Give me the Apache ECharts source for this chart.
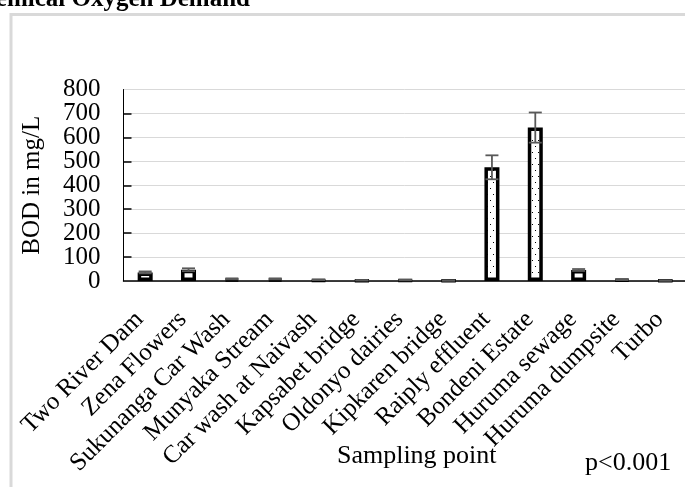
<!DOCTYPE html>
<html>
<head>
<meta charset="utf-8">
<script src="https://cdn.jsdelivr.net/npm/echarts@6/dist/echarts.min.js"></script>
<style>
html,body{margin:0;padding:0;background:#fff;}
#chart{width:685px;height:487px;}
</style>
</head>
<body>
<div id="chart"></div>
<script>
const categories = ['Two River Dam','Zena Flowers','Sukunanga Car Wash','Munyaka Stream','Car wash at Naivash','Kapsabet bridge','Oldonyo dairies','Kipkaren bridge','Raiply effluent','Bondeni Estate','Huruma sewage','Huruma dumpsite','Turbo'];
const bodMeans = [36, 47, 9, 9, 5, 3, 4, 2, 475, 641, 46, 6, 2];
const bodErrors = [4, 6, 2, 2, 1, 1, 1, 1, 50, 63, 4, 2, 1];
const yTicks = [0, 100, 200, 300, 400, 500, 600, 700, 800];
const titleText = 'Biochemical Oxygen Demand';
const yAxisTitle = 'BOD in mg/L';
const xAxisTitle = 'Sampling point';
const noteText = 'p<0.001';

const FONT = '"Liberation Serif", "Times New Roman", serif';
const yMin = yTicks[0], yMax = yTicks[yTicks.length - 1];

// dotted fill pattern
const pat = document.createElement('canvas');
pat.width = 6; pat.height = 12;
const pc = pat.getContext('2d');
pc.fillStyle = '#fff'; pc.fillRect(0, 0, 6, 12);
pc.fillStyle = '#000';
pc.fillRect(1, 2, 1, 1);
pc.fillRect(4, 8, 1, 1);

const chart = echarts.init(document.getElementById('chart'), null, {renderer: 'canvas'});

const yLabelStyle = {fontFamily: FONT, fontSize: 25, color: '#000'};

const option = {
  animation: false,
  backgroundColor: '#fff',
  grid: {left: 123.5, top: 89.5, width: 563.5, height: 191.5, containLabel: false, outerBoundsMode: 'none'},
  graphic: [
    {type: 'rect', silent: true, z: 0, shape: {x: 11, y: 14.5, width: 720, height: 520},
     style: {fill: 'none', stroke: '#d9d9d9', lineWidth: 3}},
    {type: 'text', x: 250, y: 0, silent: true,
     style: {text: titleText, font: 'bold 25px ' + FONT, textAlign: 'right', textVerticalAlign: 'middle', fill: '#000'}},
    {type: 'text', x: 585, y: 463, silent: true,
     style: {text: noteText, font: '26px ' + FONT, textAlign: 'left', textVerticalAlign: 'middle', fill: '#000'}}
  ],
  xAxis: {
    type: 'category',
    data: categories,
    name: xAxisTitle,
    nameLocation: 'middle',
    nameGap: 162,
    nameMoveOverlap: false,
    nameTextStyle: {fontFamily: FONT, fontSize: 26, color: '#000', padding: [0, 0, 0, 23]},
    axisLine: {show: true, lineStyle: {color: '#000', width: 1.5}},
    axisTick: {show: false},
    axisLabel: {interval: 0, rotate: 45, margin: 29, padding: [0, 8, 0, 0], fontFamily: FONT, fontSize: 25, color: '#000', hideOverlap: false},
    splitLine: {show: false}
  },
  yAxis: [
    {
      type: 'value',
      min: yMin, max: yMax, interval: 100,
      name: yAxisTitle,
      nameLocation: 'middle',
      nameGap: 79,
      nameRotate: 90,
      nameMoveOverlap: false,
      nameTextStyle: {fontFamily: FONT, fontSize: 25, color: '#000'},
      axisLine: {show: true, lineStyle: {color: '#000', width: 1}},
      axisTick: {show: true, inside: true, length: 8, lineStyle: {color: '#000', width: 1.5}},
      axisLabel: Object.assign({margin: 23, showMinLabel: false, showMaxLabel: false, hideOverlap: false,
        formatter: v => (yTicks.includes(v) && v !== yMin && v !== yMax) ? String(v) : ''}, yLabelStyle),
      splitLine: {show: true, lineStyle: {color: '#d9d9d9', width: 1}}
    },
    {
      type: 'value',
      position: 'left',
      offset: 0,
      min: yMin, max: yMax, interval: 100,
      axisLine: {show: false},
      axisTick: {show: false},
      splitLine: {show: false},
      axisLabel: Object.assign({margin: 23, showMinLabel: true, showMaxLabel: true, hideOverlap: false,
        formatter: v => (v === yMin || v === yMax) ? String(v) : ''}, yLabelStyle)
    }
  ],
  series: [
    {
      type: 'bar',
      data: bodMeans,
      barWidth: 15,
      yAxisIndex: 0,
      itemStyle: {color: {image: pat, repeat: 'repeat'}, borderColor: '#000', borderWidth: 3.5},
      z: 2
    },
    {
      type: 'custom',
      z: 5,
      yAxisIndex: 0,
      data: bodMeans.map((m, i) => [i, m, bodErrors[i]]),
      renderItem: function (params, api) {
        const i = api.value(0), m = api.value(1), e = api.value(2);
        const top = api.coord([i, m + e]);
        const bot = api.coord([i, m - e]);
        const hw = 6.5;
        const st = {stroke: '#595959', lineWidth: 1.8};
        return {type: 'group', children: [
          {type: 'line', shape: {x1: top[0], y1: top[1], x2: bot[0], y2: bot[1]}, style: st},
          {type: 'line', shape: {x1: top[0] - hw, y1: top[1], x2: top[0] + hw, y2: top[1]}, style: st},
          {type: 'line', shape: {x1: bot[0] - hw, y1: bot[1], x2: bot[0] + hw, y2: bot[1]}, style: st}
        ]};
      }
    }
  ]
};
chart.setOption(option);
</script>
</body>
</html>
